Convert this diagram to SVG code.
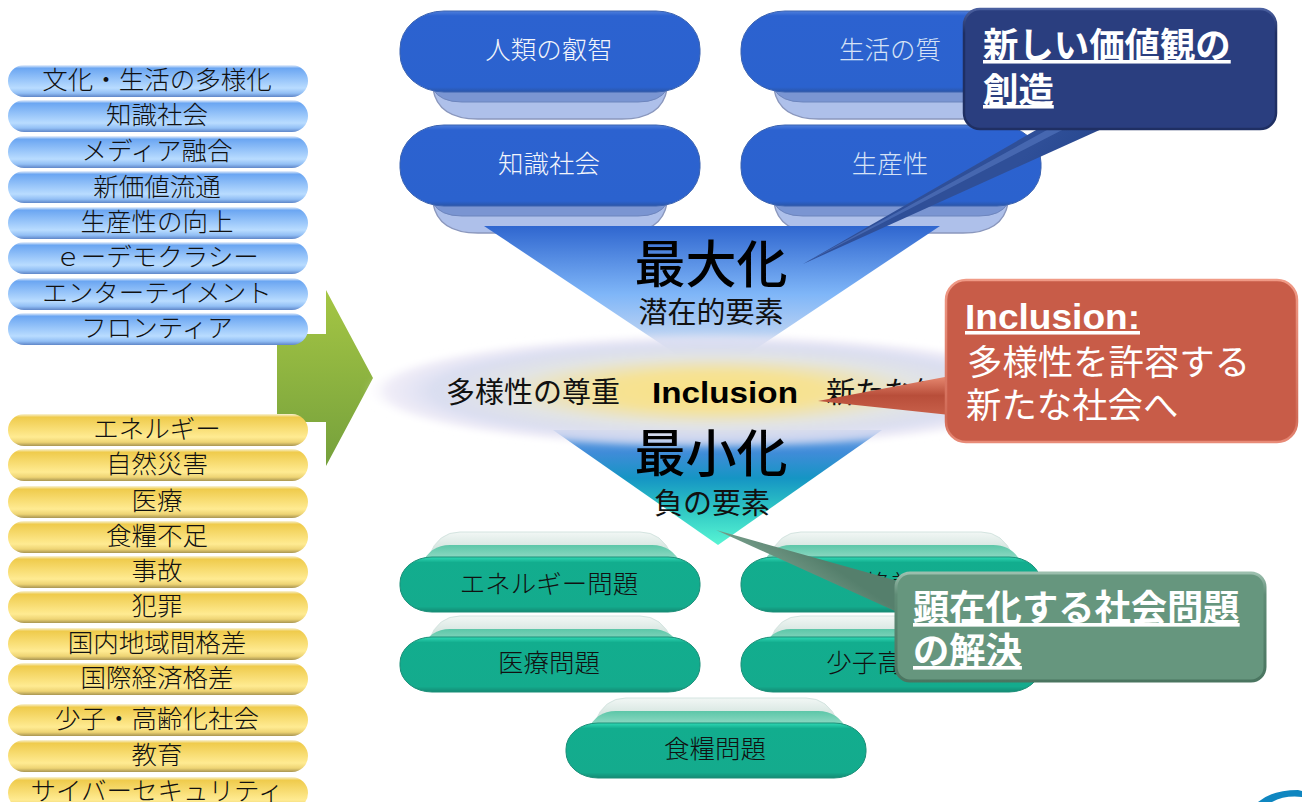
<svg xmlns="http://www.w3.org/2000/svg" width="1302" height="802" viewBox="0 0 1302 802">
<style>
text{font-family:"Noto Sans CJK JP","Liberation Sans",sans-serif;text-anchor:middle;fill:#111}
.p{font-size:25.5px;font-weight:300}
.n{font-size:25.5px;font-weight:300}
.w{fill:#f2f5fb}
.big{font-size:51px;font-weight:500;fill:#000}
.mid{font-size:29px;font-weight:400}
.c{font-size:35.4px;fill:#fff;text-anchor:start;font-weight:500}
.u{text-decoration:underline}
.pb{fill:url(#gpb)}
.py{fill:url(#gpy)}
.bm{fill:url(#gbm);stroke:#3a62b0;stroke-width:1}
.b2{fill:#7a95d2;stroke:#6d85bd}
.b3{fill:#aec0ea;stroke:#8a97bd;stroke-width:1.5}
.gm{fill:url(#ggm);stroke:#1b8f78;stroke-width:1}
.g2{fill:url(#gg2)}
.g3{fill:url(#gg3);stroke:#d4e4e0}
</style>
<defs>
<linearGradient id="gpb" x1="0" y1="0" x2="0" y2="1"><stop offset="0" stop-color="#eef3fb"/><stop offset=".1" stop-color="#6ba6f2"/><stop offset=".72" stop-color="#b9dcff"/><stop offset=".88" stop-color="#92bff5"/><stop offset="1" stop-color="#5f86c8"/></linearGradient>
<linearGradient id="gpy" x1="0" y1="0" x2="0" y2="1"><stop offset="0" stop-color="#f8f3d8"/><stop offset=".1" stop-color="#efcb4c"/><stop offset=".72" stop-color="#ffeb92"/><stop offset=".88" stop-color="#eed474"/><stop offset="1" stop-color="#a89552"/></linearGradient>
<linearGradient id="gbm" x1="0" y1="0" x2="0" y2="1"><stop offset="0" stop-color="#4f7fdc"/><stop offset=".06" stop-color="#2c62d0"/><stop offset=".94" stop-color="#2b62ce"/><stop offset="1" stop-color="#2a55a8"/></linearGradient>
<linearGradient id="ggm" x1="0" y1="0" x2="0" y2="1"><stop offset="0" stop-color="#30d8b4"/><stop offset=".1" stop-color="#12ad8e"/><stop offset=".9" stop-color="#14ab8d"/><stop offset="1" stop-color="#148a74"/></linearGradient>
<linearGradient id="gg2" x1="0" y1="0" x2="0" y2="1"><stop offset="0" stop-color="#5cc6a8"/><stop offset="1" stop-color="#c4eee0"/></linearGradient>
<linearGradient id="gg3" x1="0" y1="0" x2="0" y2="1"><stop offset="0" stop-color="#f2f7f5"/><stop offset=".6" stop-color="#c8ddd6"/><stop offset="1" stop-color="#8fc4b2"/></linearGradient>
<linearGradient id="gar" x1="0" y1="0" x2="0" y2="1"><stop offset="0" stop-color="#a5c644"/><stop offset="1" stop-color="#75a03c"/></linearGradient>
<linearGradient id="gt1" gradientUnits="userSpaceOnUse" x1="0" y1="226" x2="0" y2="350"><stop offset="0" stop-color="#2f66cf"/><stop offset=".55" stop-color="#7fb6f8"/><stop offset="1" stop-color="#d0dcf0"/></linearGradient>
<linearGradient id="gt2" gradientUnits="userSpaceOnUse" x1="0" y1="430" x2="0" y2="545"><stop offset="0" stop-color="#6ea0e4"/><stop offset=".2" stop-color="#3f8cd8"/><stop offset=".42" stop-color="#1595c4"/><stop offset=".7" stop-color="#30c8c4"/><stop offset="1" stop-color="#58f5d4"/></linearGradient>
<radialGradient id="gel" cx=".5" cy=".5" r=".5"><stop offset="0" stop-color="#fae186"/><stop offset=".32" stop-color="#f6e294"/><stop offset=".6" stop-color="#e2e4e4"/><stop offset=".8" stop-color="#d8dcf0" stop-opacity=".95"/><stop offset=".93" stop-color="#e8e4f4" stop-opacity=".7"/><stop offset="1" stop-color="#fff" stop-opacity="0"/></radialGradient>
<filter id="soft" x="-5%" y="-20%" width="110%" height="140%"><feGaussianBlur stdDeviation="3"/></filter>
<linearGradient id="gtn" gradientUnits="userSpaceOnUse" x1="1040" y1="140" x2="1080" y2="180"><stop offset="0" stop-color="#2f4f98"/><stop offset=".5" stop-color="#2a4a92"/><stop offset="1" stop-color="#1e3068"/></linearGradient>
<linearGradient id="gtr" x1="0" y1="0" x2="0" y2="1"><stop offset="0" stop-color="#e88a72"/><stop offset=".5" stop-color="#b84e3a"/><stop offset="1" stop-color="#c8604a"/></linearGradient>
<linearGradient id="gtg" gradientUnits="userSpaceOnUse" x1="800" y1="545" x2="770" y2="590"><stop offset="0" stop-color="#557f6c"/><stop offset="1" stop-color="#86ab98"/></linearGradient>
<linearGradient id="gsn" x1="0" y1="0" x2="0" y2="1"><stop offset="0" stop-color="#4a5f9f"/><stop offset=".2" stop-color="#1f2f63"/><stop offset="1" stop-color="#1f2f63"/></linearGradient>
<linearGradient id="gsr" x1="0" y1="0" x2="0" y2="1"><stop offset="0" stop-color="#f09a86"/><stop offset=".85" stop-color="#d06a56"/><stop offset="1" stop-color="#e88b78"/></linearGradient>
<linearGradient id="gsg" x1="0" y1="0" x2="0" y2="1"><stop offset="0" stop-color="#9cbfae"/><stop offset=".2" stop-color="#5f8c76"/><stop offset="1" stop-color="#4a7560"/></linearGradient>
<rect id="pill" width="300" height="32" rx="16"/>
<path id="bl3" d="M33 60V78Q38 108 78 108H222Q262 108 267 78V60Z"/>
<path id="bl2" d="M33 60V78Q40 91 62 91H238Q260 91 267 78V60Z"/>
<rect id="blm" width="300" height="81" rx="44" ry="38"/>
<path id="gr3" d="M29 24Q38 0 60 0H240Q262 0 272 24V40H29Z"/>
<path id="gr2" d="M22 32Q30 13 50 13H252Q272 13 281 32V40H22Z"/>
<rect id="grm" width="300" height="55" rx="32" ry="26"/>
</defs>

<polygon id="arrow" fill="url(#gar)" points="277,334 326,334 326,290 373,378 326,466 326,422 277,422"/>

<g id="bullets-blue">
<g id="b1"><use href="#pill" class="pb" x="8" y="65"/><text class="p" x="157" y="89">文化・生活の多様化</text></g>
<g id="b2"><use href="#pill" class="pb" x="8" y="100"/><text class="p" x="157" y="124">知識社会</text></g>
<g id="b3"><use href="#pill" class="pb" x="8" y="136"/><text class="p" x="157" y="160">メディア融合</text></g>
<g id="b4"><use href="#pill" class="pb" x="8" y="171"/><text class="p" x="157" y="196">新価値流通</text></g>
<g id="b5"><use href="#pill" class="pb" x="8" y="207"/><text class="p" x="157" y="231">生産性の向上</text></g>
<g id="b6"><use href="#pill" class="pb" x="8" y="242"/><text class="p" x="157" y="266">ｅーデモクラシー</text></g>
<g id="b7"><use href="#pill" class="pb" x="8" y="278"/><text class="p" x="157" y="302">エンターテイメント</text></g>
<g id="b8"><use href="#pill" class="pb" x="8" y="313"/><text class="p" x="157" y="337">フロンティア</text></g>
</g>

<g id="bullets-yellow">
<g id="y1"><use href="#pill" class="py" x="8" y="414"/><text class="p" x="157" y="438">エネルギー</text></g>
<g id="y2"><use href="#pill" class="py" x="8" y="449"/><text class="p" x="157" y="473">自然災害</text></g>
<g id="y3"><use href="#pill" class="py" x="8" y="486"/><text class="p" x="157" y="510">医療</text></g>
<g id="y4"><use href="#pill" class="py" x="8" y="521"/><text class="p" x="157" y="545">食糧不足</text></g>
<g id="y5"><use href="#pill" class="py" x="8" y="556"/><text class="p" x="157" y="580">事故</text></g>
<g id="y6"><use href="#pill" class="py" x="8" y="591"/><text class="p" x="157" y="615">犯罪</text></g>
<g id="y7"><use href="#pill" class="py" x="8" y="628"/><text class="p" x="157" y="652">国内地域間格差</text></g>
<g id="y8"><use href="#pill" class="py" x="8" y="663"/><text class="p" x="157" y="687">国際経済格差</text></g>
<g id="y9"><use href="#pill" class="py" x="8" y="704"/><text class="p" x="157" y="728">少子・高齢化社会</text></g>
<g id="y10"><use href="#pill" class="py" x="8" y="740"/><text class="p" x="157" y="764">教育</text></g>
<g id="y11"><use href="#pill" class="py" x="8" y="777"/><text class="p" x="157" y="800">サイバーセキュリティ</text></g>
</g>

<g id="nodes-blue">
<g id="n1" transform="translate(400 11)"><use href="#bl3" class="b3"/><use href="#bl2" class="b2"/><use href="#blm" class="bm"/><text class="n w" x="149" y="48">人類の叡智</text></g>
<g id="n2" transform="translate(741 11)"><use href="#bl3" class="b3"/><use href="#bl2" class="b2"/><use href="#blm" class="bm"/><text class="n w" x="149" y="48" style="fill:#d6e2f6">生活の質</text></g>
<g id="n3" transform="translate(400 125)"><use href="#bl3" class="b3"/><use href="#bl2" class="b2"/><use href="#blm" class="bm"/><text class="n w" x="149" y="48">知識社会</text></g>
<g id="n4" transform="translate(741 125)"><use href="#bl3" class="b3"/><use href="#bl2" class="b2"/><use href="#blm" class="bm"/><text class="n w" x="149" y="48" style="fill:#d6e2f6">生産性</text></g>
</g>

<g id="nodes-green">
<g id="g1" transform="translate(400 532)"><use href="#gr3" class="g3"/><use href="#gr2" class="g2"/><use href="#grm" class="gm" y="25"/><text class="n" x="149" y="61">エネルギー問題</text></g>
<g id="g2" transform="translate(741 532)"><use href="#gr3" class="g3"/><use href="#gr2" class="g2"/><use href="#grm" class="gm" y="25"/><text class="n" x="149" y="61">格差</text></g>
<g id="g3" transform="translate(400 616)"><use href="#gr3" class="g3"/><use href="#gr2" class="g2"/><use href="#grm" class="gm" y="21"/><text class="n" x="149" y="56">医療問題</text></g>
<g id="g4" transform="translate(741 616)"><use href="#gr3" class="g3"/><use href="#gr2" class="g2"/><use href="#grm" class="gm" y="21"/><text class="n" x="149" y="56">少子高齢化</text></g>
<g id="g5" transform="translate(566 698)"><use href="#gr3" class="g3"/><use href="#gr2" class="g2"/><use href="#grm" class="gm" y="25"/><text class="n" x="149" y="60">食糧問題</text></g>
</g>

<g id="center">
<polygon id="tri-top" fill="url(#gt1)" points="484,226 940,226 712,378"/>
<polygon id="tri-bottom" fill="url(#gt2)" points="553,430 882,430 718,545"/>
<ellipse id="band" cx="712" cy="391" rx="348" ry="57" fill="url(#gel)" filter="url(#soft)"/>
<text class="big" x="711" y="283">最大化</text>
<text class="mid" x="711" y="323">潜在的要素</text>
<text class="mid" x="533" y="403">多様性の尊重</text>
<text x="725" y="403" style="font-family:'Liberation Sans',sans-serif;font-size:29px;font-weight:700;fill:#000" textLength="146" lengthAdjust="spacingAndGlyphs">Inclusion</text>
<text class="mid" x="826" y="403" style="text-anchor:start">新たな価値</text>
<text class="big" x="711" y="472">最小化</text>
<text class="mid" x="712" y="514">負の要素</text>
</g>

<g id="connectors">
<polygon fill="url(#gtn)" points="1050,122 1104,128 803,264"/>
<polygon fill="#5a7cc4" opacity=".55" points="1056,125 1066,128 803,264"/>
<polygon fill="url(#gtr)" points="950,376 950,415 818,401"/>
<polygon fill="url(#gtg)" points="716,530 905,583 897,612"/>
</g>

<g id="callout-navy">
<rect x="964" y="9" width="312" height="120" rx="16" fill="#2a3e7f" stroke="url(#gsn)" stroke-width="2.5"/>
<text class="c u" x="983" y="58" style="font-weight:700">新しい価値観の</text>
<text class="c u" x="983" y="103" style="font-weight:700">創造</text>
</g>
<g id="callout-red">
<rect x="946" y="280" width="351" height="162" rx="20" fill="#c85c48" stroke="url(#gsr)" stroke-width="2.5"/>
<text x="965" y="329" class="c u" style="font-family:'Liberation Sans',sans-serif;font-weight:700" textLength="175" lengthAdjust="spacingAndGlyphs">Inclusion:</text>
<text class="c" x="967" y="375" style="font-weight:400">多様性を許容する</text>
<text class="c" x="966" y="418" style="font-weight:400">新たな社会へ</text>
</g>
<g id="callout-green">
<rect x="896" y="573" width="369" height="108" rx="14" fill="#66967e" stroke="url(#gsg)" stroke-width="3"/>
<text class="c u" x="913" y="621" style="font-size:36.3px;font-weight:700">顕在化する社会問題</text>
<text class="c u" x="913" y="664" style="font-size:36.3px;font-weight:700">の解決</text>
</g>

<path id="logo" d="M1258 802Q1272 790 1298 790L1302 791V797Q1285 795 1272 802Z" fill="#0f86c0"/>
</svg>
